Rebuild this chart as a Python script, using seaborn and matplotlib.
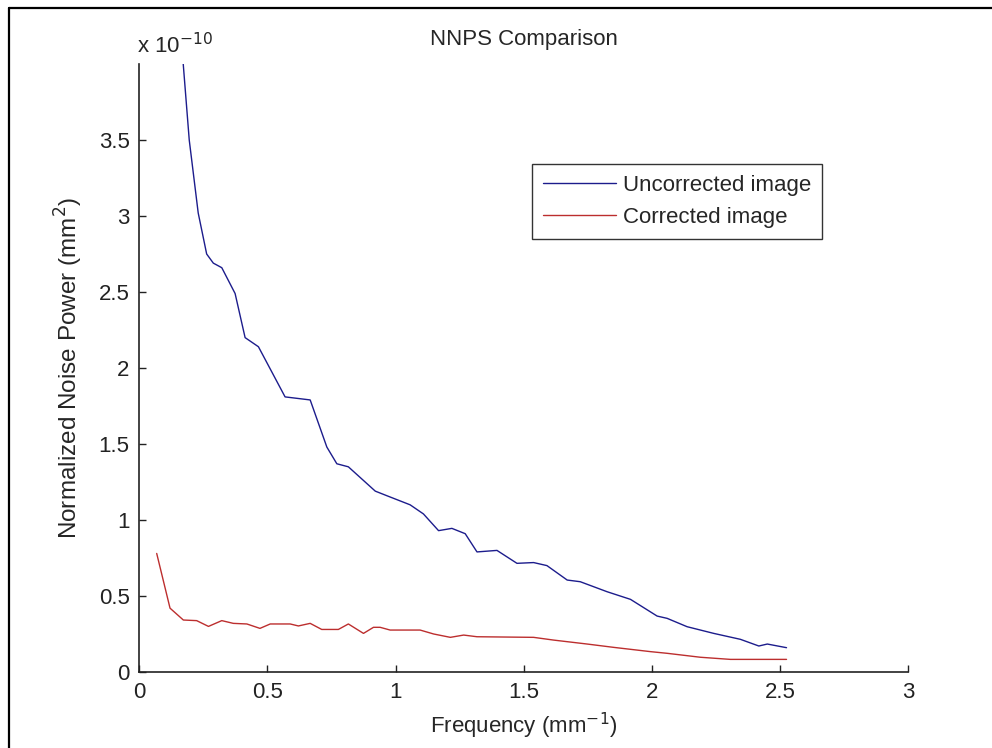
#!/usr/bin/env python3
import matplotlib
matplotlib.use('Agg')
import matplotlib.pyplot as plt
import seaborn as sns
import pandas
from matplotlib.lines import Line2D

# Values, noise power in units of 1e-10 mm^2
uncorr_freq = [0.068, 0.120, 0.172, 0.195, 0.230, 0.263, 0.289, 0.322, 0.374, 0.413,
               0.465, 0.569, 0.667, 0.732, 0.771, 0.816, 0.921, 0.966, 1.057, 1.109,
               1.168, 1.220, 1.272, 1.318, 1.396, 1.474, 1.539, 1.591, 1.670, 1.721,
               1.826, 1.917, 2.021, 2.060, 2.138, 2.242, 2.346, 2.418, 2.451, 2.526]
uncorr_nnps = [7.60, 5.20, 3.99, 3.50, 3.02, 2.75, 2.69, 2.66, 2.49, 2.20,
               2.14, 1.81, 1.79, 1.48, 1.37, 1.35, 1.19, 1.16, 1.10, 1.04,
               0.93, 0.945, 0.91, 0.79, 0.80, 0.715, 0.72, 0.70, 0.605, 0.594,
               0.528, 0.478, 0.368, 0.353, 0.298, 0.254, 0.215, 0.171, 0.184, 0.160]

corr_freq = [0.068, 0.120, 0.172, 0.224, 0.270, 0.322, 0.367, 0.420, 0.471, 0.511,
             0.589, 0.621, 0.667, 0.712, 0.777, 0.816, 0.875, 0.914, 0.940, 0.979,
             1.018, 1.096, 1.149, 1.214, 1.266, 1.318, 1.539, 1.617, 1.748, 1.852,
             1.995, 2.060, 2.190, 2.307, 2.526]
corr_nnps = [0.78, 0.42, 0.342, 0.338, 0.30, 0.338, 0.32, 0.316, 0.287, 0.316,
             0.316, 0.303, 0.32, 0.28, 0.28, 0.316, 0.254, 0.294, 0.294, 0.276,
             0.276, 0.276, 0.25, 0.228, 0.243, 0.232, 0.228, 0.21, 0.184, 0.162,
             0.134, 0.123, 0.097, 0.083, 0.083]

x_ticks = [0, 0.5, 1, 1.5, 2, 2.5, 3]
y_ticks = [0, 0.5, 1, 1.5, 2, 2.5, 3, 3.5]

sns.set_style('white')
plt.rcParams['font.family'] = ['Liberation Sans', 'DejaVu Sans']
FS = 16


def main():
    uncorr = pandas.DataFrame({'freq': uncorr_freq, 'nnps': uncorr_nnps})
    uncorr['type'] = 'Uncorrected image'
    corr = pandas.DataFrame({'freq': corr_freq, 'nnps': corr_nnps})
    corr['type'] = 'Corrected image'
    data = pandas.concat([uncorr, corr])

    fig = plt.figure(figsize=(9.92, 7.48), dpi=100)
    ax = fig.add_axes([0.1404, 0.1016, 0.7749, 0.8128])
    sns.lineplot(data=data, x='freq', y='nnps', hue='type', sort=False,
                 estimator=None, palette=['#1c1c8c', '#bc2e2e'], linewidth=1.0, ax=ax)

    ax.set_xlim(0, 3)
    ax.set_ylim(0, 4)
    ax.set_xticks(x_ticks)
    ax.set_xticklabels(['0', '0.5', '1', '1.5', '2', '2.5', '3'])
    ax.set_yticks(y_ticks)
    ax.set_yticklabels(['0', '0.5', '1', '1.5', '2', '2.5', '3', '3.5'])
    ax.tick_params(direction='in', length=5, width=1.0, colors='#222222',
                   labelsize=FS, left=True, bottom=True)
    ax.tick_params(axis='x', pad=7)
    ax.tick_params(axis='y', pad=7)
    sns.despine(ax=ax)
    for side in ['left', 'bottom']:
        ax.spines[side].set_color('#222222')
        ax.spines[side].set_linewidth(1.2)

    ax.set_xlabel(r'Frequency (mm$^{-1}$)', fontsize=FS, labelpad=6)
    ax.set_ylabel(r'Normalized Noise Power (mm$^{2}$)', fontsize=17.5, labelpad=10)
    fig.text(137 / 992, 1 - 53 / 748, r'x 10$^{-10}$', fontsize=FS,
             ha='left', va='baseline')
    fig.text(523.5 / 992, 1 - 45 / 748, 'NNPS Comparison', fontsize=FS,
             ha='center', va='baseline')

    handles, labels = ax.get_legend_handles_labels()
    leg = ax.legend(handles, labels, loc='upper left',
                    bbox_to_anchor=(531.7 / 992, 1 - 164 / 748),
                    bbox_transform=fig.transFigure, borderaxespad=0,
                    fontsize=FS, frameon=True, fancybox=False,
                    handlelength=3.3, handletextpad=0.3, labelspacing=0.5,
                    borderpad=0.5)
    leg.get_frame().set_edgecolor('black')
    leg.get_frame().set_linewidth(1.0)

    # border of the cropped screenshot (top and left edges)
    fig.add_artist(Line2D([9 / 992, 1], [1 - 7.5 / 748] * 2,
                          transform=fig.transFigure, color='black', linewidth=1.6))
    fig.add_artist(Line2D([9 / 992] * 2, [0, 1 - 7.5 / 748],
                          transform=fig.transFigure, color='black', linewidth=1.6))

    fig.savefig('out.png', dpi=100)


if __name__ == '__main__':
    main()
